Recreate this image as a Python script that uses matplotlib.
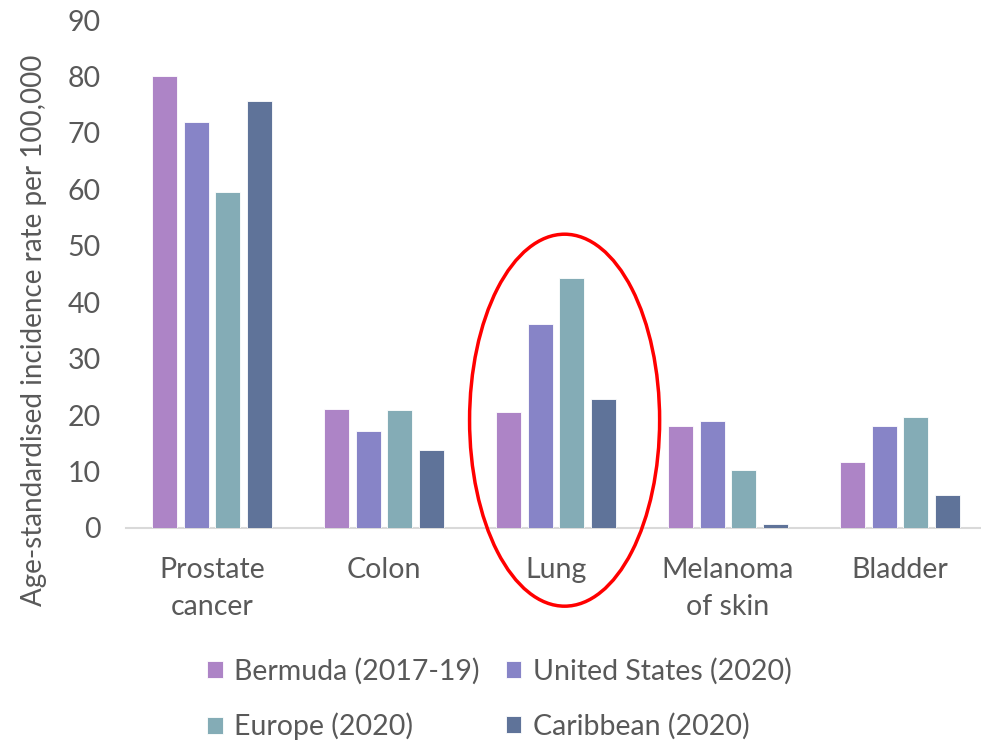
import numpy as np
import matplotlib.pyplot as plt
from matplotlib.patches import Ellipse

plt.rcParams['font.family'] = ['Lato', 'DejaVu Sans']

categories = ['Prostate\ncancer', 'Colon', 'Lung', 'Melanoma\nof skin', 'Bladder']
series = ['Bermuda (2017-19)', 'United States (2020)', 'Europe (2020)', 'Caribbean (2020)']
bermuda = [80.1, 21.1, 20.5, 18.1, 11.7]
united_states = [71.9, 17.1, 36.1, 19.0, 18.1]
europe = [59.5, 20.9, 44.3, 10.3, 19.7]
caribbean = [75.7, 13.9, 22.8, 0.7, 5.8]
colors = ['#AD84C6', '#8784C7', '#84ACB6', '#5F7399']

text_col = '#595959'
fs = 20.5

fig = plt.figure(figsize=(9.81, 7.44), dpi=100)
ax = fig.add_axes([126 / 981, 1 - 528 / 744, 1 - 126 / 981, (528 - 20) / 744])

x = np.arange(len(categories))
width = 0.145
pitch = 0.183
bars = []
for i, (vals, name) in enumerate(zip([bermuda, united_states, europe, caribbean], series)):
    b = ax.bar(x + (i - 1.5) * pitch, vals, width, color=colors[i], label=name,
               edgecolor='white', linewidth=0.6, zorder=2)
    bars.append(b)

ax.set_xlim(-0.5, -0.5 + 855 / 172)
ax.set_ylim(0, 90)
ax.set_yticks(range(0, 91, 10))
ax.set_xticks(x)
ax.set_xticklabels(categories, linespacing=1.5)
ax.tick_params(axis='both', length=0, labelsize=fs, colors=text_col)
ax.tick_params(axis='x', pad=21)
ax.tick_params(axis='y', pad=18)
for s in ax.spines.values():
    s.set_visible(False)
ax.axhline(0, color='#D9D9D9', linewidth=1.5, zorder=1, clip_on=False)
ax.set_ylabel('Age-standardised incidence rate per 100,000', fontsize=20,
              color=text_col)
ax.yaxis.set_label_coords(-0.092, 0.39)

# highlight the lung group
ax.add_patch(Ellipse((2.05, 19.1), 1.105, 65.9, fill=False, edgecolor='#FF0000',
                     linewidth=2.5, clip_on=False, zorder=3))

# legend filled row by row: Bermuda, US / Europe, Caribbean
order = [0, 2, 1, 3]
fig.legend([bars[i] for i in order], [series[i] for i in order],
           loc='center', bbox_to_anchor=(0.509, 1 - 699 / 744), ncol=2, frameon=False,
           fontsize=fs, labelcolor=text_col, handlelength=0.55, handleheight=0.55,
           handletextpad=0.4, columnspacing=0.9, labelspacing=1.0)

fig.savefig('out.png', dpi=100)
